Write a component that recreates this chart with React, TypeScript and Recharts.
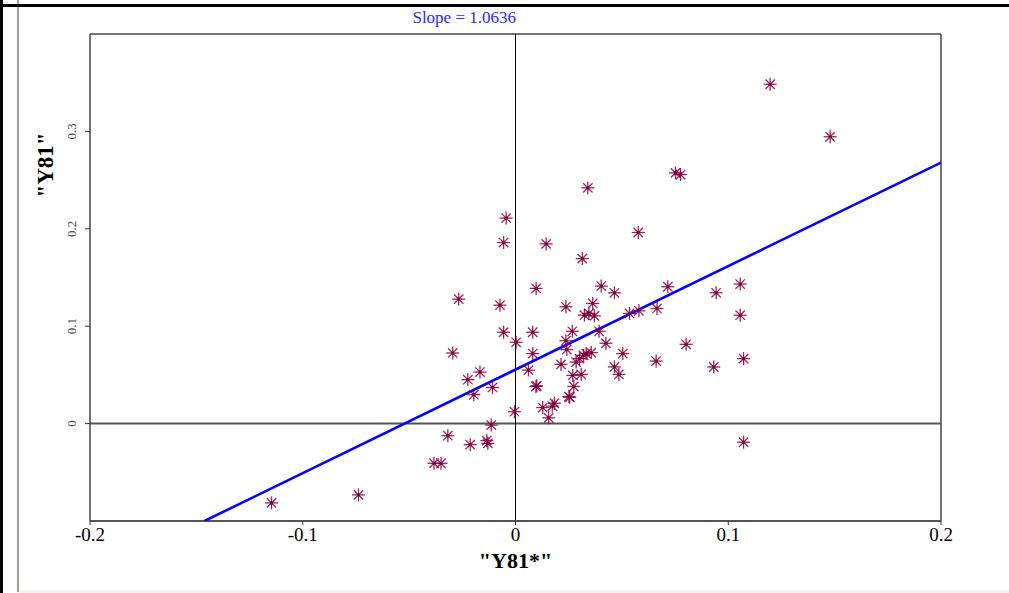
import { ScatterChart, Scatter, XAxis, YAxis, ReferenceLine, Label } from 'recharts';

// observed pairs: "Y81*" (x) against "Y81" (y)
const pointX = [
  0.1197, 0.1479, 0.0752, 0.0776, 0.034, -0.0044, -0.0056, 0.0144, 0.0577, 0.0314,
  0.0097, 0.0403, 0.0465, 0.0716, 0.0943, 0.1056, -0.0267, -0.0073, 0.0237, 0.0363,
  0.0324, 0.0345, 0.0371, 0.0536, 0.058, 0.0665, 0.1056, -0.0056, 0.0081, 0.0267,
  0.0393, 0.0003, 0.0237, 0.0425, 0.0802, -0.0295, 0.0081, 0.0241, 0.0285, 0.0301,
  0.032, 0.0332, 0.0356, 0.0504, 0.0661, 0.0214, 0.0465, 0.0486, 0.0932, 0.1072,
  -0.0167, -0.0224, 0.0061, 0.0269, 0.0309, 0.0096, 0.01, 0.0274, -0.0108, -0.0196,
  0.0251, 0.0255, 0.0183, 0.0173, 0.0128, 0.0156, -0.0005, -0.0114, -0.0318, -0.0213,
  -0.0135, -0.013, -0.0383, -0.035, -0.0738, -0.1147, 0.1072,
];
const pointY = [
  0.3484, 0.2945, 0.2574, 0.2557, 0.242, 0.211, 0.1859, 0.1845, 0.1962, 0.1694,
  0.1388, 0.1412, 0.1343, 0.1405, 0.1343, 0.1433, 0.1278, 0.1216, 0.1199, 0.1234,
  0.1113, 0.1131, 0.1106, 0.1131, 0.1158, 0.1182, 0.1113, 0.0938, 0.0938, 0.0948,
  0.0948, 0.0835, 0.0851, 0.0825, 0.0814, 0.0725, 0.0719, 0.076, 0.0632, 0.0667,
  0.0701, 0.0719, 0.0729, 0.0719, 0.0642, 0.0608, 0.0582, 0.0505, 0.0581, 0.0667,
  0.0529, 0.0451, 0.0549, 0.0495, 0.0505, 0.0381, 0.0388, 0.0381, 0.0371, 0.0297,
  0.0278, 0.027, 0.0209, 0.018, 0.0165, 0.0059, 0.0122, -0.0015, -0.0124, -0.0216,
  -0.0175, -0.0203, -0.0407, -0.0407, -0.0732, -0.0814, -0.0191,
];

// fitted line end points (slope 1.0636)
const fitX = [-0.1462, 0.2];
const fitY = [-0.1, 0.268];

const xTicks = [-0.2, -0.1, 0, 0.1, 0.2];
const yTicks = [0, 0.1, 0.2, 0.3];

const points = pointX.map((x, i) => ({ x, y: pointY[i] }));
const fitLine = fitX.map((x, i) => ({ x, y: fitY[i] }));

const MARK = '#800040';

const Asterisk = (props: any) => {
  const { cx, cy } = props;
  if (cx == null || cy == null) return <g />;
  const r = 6.5;
  const d = r * 0.72;
  return (
    <g stroke={MARK} strokeWidth={1.3} strokeOpacity={0.85}>
      <line x1={cx - r} y1={cy} x2={cx + r} y2={cy} />
      <line x1={cx} y1={cy - r} x2={cx} y2={cy + r} />
      <line x1={cx - d} y1={cy - d} x2={cx + d} y2={cy + d} />
      <line x1={cx - d} y1={cy + d} x2={cx + d} y2={cy - d} />
      <circle cx={cx} cy={cy} r={1.6} fill={MARK} stroke="none" />
    </g>
  );
};

const YTick = (props: any) => {
  const { x, y, payload } = props;
  const cx = x - 13;
  return (
    <text
      x={cx}
      y={y}
      transform={`rotate(-90 ${cx} ${y})`}
      textAnchor="middle"
      dominantBaseline="central"
      fontSize={13}
      fill="#444"
      fontFamily="Liberation Serif"
    >
      {payload.value}
    </text>
  );
};

export default function App() {
  return (
    <div
      style={{
        position: 'absolute',
        left: 0,
        top: 0,
        width: 1009,
        height: 593,
        background: '#fff',
        fontFamily: 'Liberation Serif',
        overflow: 'hidden',
      }}
    >
      {/* window frame */}
      <div style={{ position: 'absolute', left: 0, top: 0, width: 3, height: 593, background: '#000' }} />
      <div style={{ position: 'absolute', left: 17, top: 0, width: 2, height: 592, background: '#a09e94' }} />
      <div style={{ position: 'absolute', left: 0, top: 4, width: 1009, height: 3, background: '#000' }} />
      <div style={{ position: 'absolute', left: 19, top: 590, width: 990, height: 3, background: '#f4f4ec' }} />

      <div
        style={{
          position: 'absolute',
          left: 396,
          top: 8,
          width: 120,
          textAlign: 'right',
          color: '#2a2aff',
          fontSize: 17,
          whiteSpace: 'nowrap',
        }}
      >
        Slope = 1.0636
      </div>

      <ScatterChart
        width={1009}
        height={593}
        margin={{ top: 34, right: 68, bottom: 32, left: 20 }}
        style={{ position: 'absolute', left: 0, top: 0 }}
      >
        <XAxis
          type="number"
          dataKey="x"
          domain={[-0.2, 0.2]}
          ticks={xTicks}
          allowDataOverflow
          height={40}
          tickSize={4}
          tickMargin={3}
          axisLine={{ stroke: '#555', strokeWidth: 2 }}
          tickLine={{ stroke: '#333' }}
          tick={{ fontSize: 19, fill: '#000', fontFamily: 'Liberation Serif' }}
        >
          <Label
            content={(p: any) => {
              const vb = p.viewBox;
              return (
                <text
                  x={vb.x + vb.width / 2}
                  y={vb.y + 47}
                  textAnchor="middle"
                  fontSize={22}
                  fontWeight="bold"
                  fontFamily="Liberation Serif"
                  fill="#000"
                >
                  "Y81*"
                </text>
              );
            }}
          />
        </XAxis>
        <YAxis
          type="number"
          dataKey="y"
          domain={[-0.1, 0.4]}
          ticks={yTicks}
          allowDataOverflow
          width={70}
          tickSize={5}
          tickMargin={0}
          axisLine={{ stroke: '#444', strokeWidth: 1.5 }}
          tickLine={{ stroke: '#333' }}
          tick={<YTick />}
        >
          <Label
            content={(p: any) => {
              const vb = p.viewBox;
              const cx = 45;
              const cy = vb.y + 131;
              return (
                <text
                  x={cx}
                  y={cy}
                  transform={`rotate(-90 ${cx} ${cy})`}
                  textAnchor="middle"
                  dominantBaseline="central"
                  fontSize={23}
                  fontWeight="bold"
                  fontFamily="Liberation Serif"
                  fill="#000"
                >
                  "Y81"
                </text>
              );
            }}
          />
        </YAxis>
        {/* plot frame top and right */}
        <ReferenceLine y={0.4} stroke="#444" strokeWidth={1.5} />
        <ReferenceLine x={0.2} stroke="#444" strokeWidth={1.5} />
        <ReferenceLine y={0} stroke="#555" strokeWidth={2} />
        <ReferenceLine x={0} stroke="#000" strokeWidth={1} />
        <Scatter
          data={fitLine}
          line={{ stroke: '#0000ff', strokeWidth: 2.6 }}
          shape={() => <g />}
          isAnimationActive={false}
        />
        <Scatter data={points} shape={<Asterisk />} isAnimationActive={false} />
      </ScatterChart>
    </div>
  );
}
